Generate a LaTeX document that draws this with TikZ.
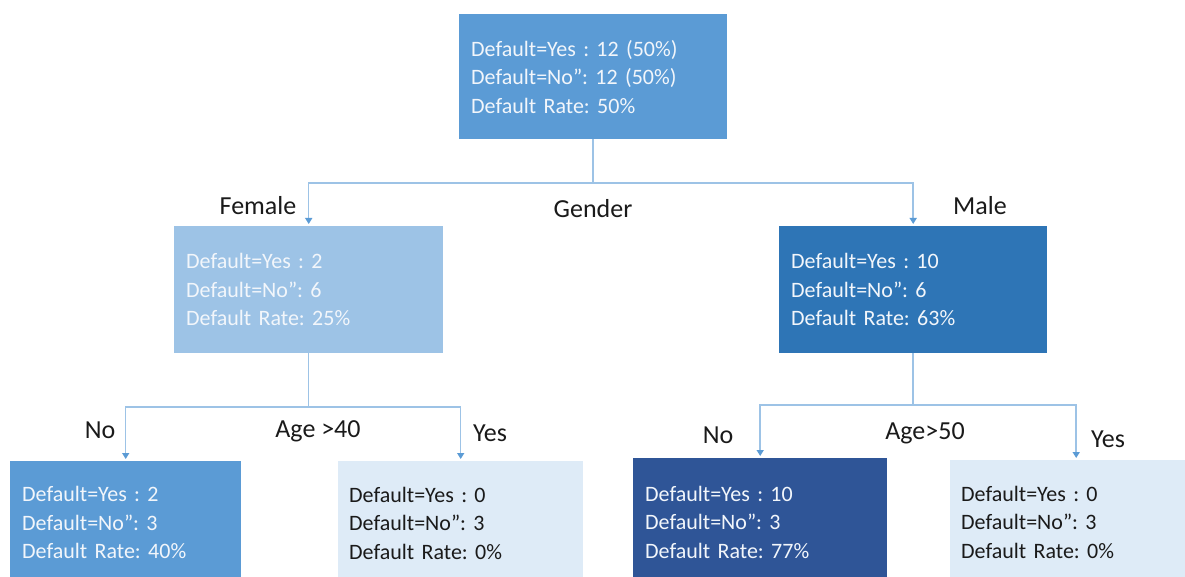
\documentclass[tikz,border=0pt]{standalone}
\usepackage{fontspec}
\setmainfont{Carlito}
\frenchspacing
\usetikzlibrary{arrows.meta}
\definecolor{cTop}{HTML}{5B9BD5}
\definecolor{cLight}{HTML}{9DC3E6}
\definecolor{cMid}{HTML}{2E75B6}
\definecolor{cDark}{HTML}{2F5597}
\definecolor{cPale}{HTML}{DEEBF7}
\definecolor{cLine}{HTML}{9DC3E6}
\definecolor{cTip}{HTML}{5B9BD5}
\definecolor{cTxt}{HTML}{1A1A1A}
\definecolor{cWhite}{HTML}{F2F6FB}
\tikzset{
  box/.style={anchor=north west, inner xsep=12pt, inner ysep=0pt, align=left,
    font=\fontsize{22}{28.5}\selectfont},
  lbl/.style={font=\fontsize{26}{30}\selectfont, text=cTxt, inner sep=0pt},
  conn/.style={draw=cLine, line width=1.5pt},
  arr/.style={conn, -{Triangle[length=6pt,width=7pt,color=cTip]}, shorten >=2pt}
}
\begin{document}
\begin{tikzpicture}[x=1pt,y=-1pt]
\useasboundingbox (0,0) rectangle (1185,577);
\clip (0,0) rectangle (1185,577);
% boxes
\node[box, fill=cTop, text=cWhite, text width=244pt, minimum height=125pt] (top) at (459,14)
  {Default=Yes : 12 (50\%)\\Default=No”: 12 (50\%)\\Default Rate: 50\%};
\node[box, fill=cLight, text=cWhite, text width=245pt, minimum height=127pt] (fem) at (174,226)
  {Default=Yes : 2\\Default=No”: 6\\Default Rate: 25\%};
\node[box, fill=cMid, text=cWhite, text width=244pt, minimum height=127pt] (mal) at (779,226)
  {Default=Yes : 10\\Default=No”: 6\\Default Rate: 63\%};
\node[box, fill=cTop, text=cWhite, text width=207pt, minimum height=123pt] (fno) at (10,461)
  {Default=Yes : 2\\Default=No”: 3\\Default Rate: 40\%};
\node[box, fill=cPale, text=cTxt, text width=223pt, minimum height=124pt, inner xsep=11pt] (fyes) at (338,461)
  {Default=Yes : 0\\Default=No”: 3\\Default Rate: 0\%};
\node[box, fill=cDark, text=cWhite, text width=230pt, minimum height=128pt] (mno) at (633,458)
  {Default=Yes : 10\\Default=No”: 3\\Default Rate: 77\%};
\node[box, fill=cPale, text=cTxt, text width=230pt, minimum height=124pt, inner xsep=11pt] (myes) at (950,460)
  {Default=Yes : 0\\Default=No”: 3\\Default Rate: 0\%};
% junctions
\coordinate (j0) at (top.south |- 0,183);
\coordinate (j1) at (fem.south |- 0,407);
\coordinate (j2) at (mal.south |- 0,405);
% connectors
\draw[conn] (top.south) -- (j0);
\draw[arr] (j0) -| (fem.north);
\draw[arr] (j0) -| (mal.north);
\draw[conn] (fem.south) -- (j1);
\draw[arr] (j1) -| (fno.north);
\draw[arr] (j1) -| (fyes.north);
\draw[conn] (mal.south) -- (j2);
\draw[arr] (j2) -| (mno.north);
\draw[arr] (j2) -| (myes.north);
% labels
\node[lbl] (lfem) at (258,206) {Female};
\node[lbl] (lgen) at (593,209) {Gender};
\node[lbl] (lmal) at (980,206) {Male};
\node[lbl] (lno1) at (100,430) {No};
\node[lbl] (lage1) at (318,431) {Age >40};
\node[lbl] (lyes1) at (490,433) {Yes};
\node[lbl] (lno2) at (718,435) {No};
\node[lbl] (lage2) at (925,433) {Age>50};
\node[lbl] (lyes2) at (1108,439) {Yes};
\end{tikzpicture}
\end{document}
